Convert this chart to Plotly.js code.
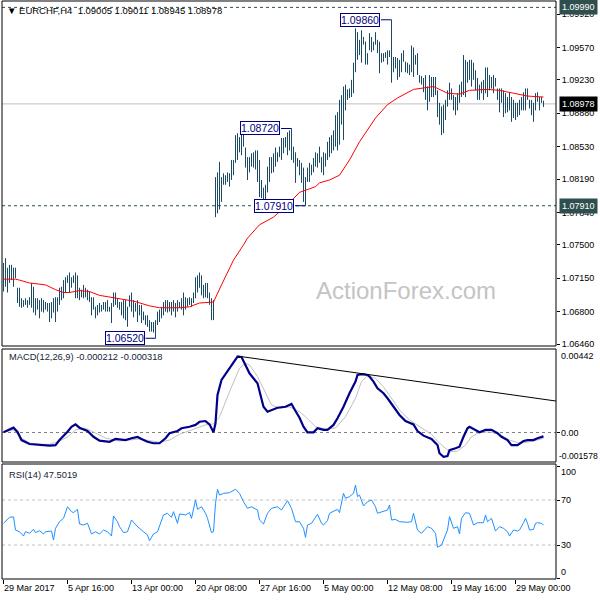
<!DOCTYPE html>
<html>
<head>
<meta charset="utf-8">
<script src="https://cdn.plot.ly/plotly-3.0.1.min.js"></script>
<style>html,body{margin:0;padding:0;background:#fff;}#chart{width:600px;height:600px;}</style>
</head>
<body>
<div id="chart"></div>
<script>
// ---- tick labels ----
const xTickVals = [0, 32, 64, 96, 128, 160, 192, 224, 256];
const xTickText = ["29 Mar 2017", "5 Apr 16:00", "13 Apr 00:00", "20 Apr 08:00", "27 Apr 16:00", "5 May 00:00", "12 May 08:00", "19 May 16:00", "29 May 00:00"];
const priceTicks = [1.06460, 1.06800, 1.07150, 1.07500, 1.07840, 1.08190, 1.08530, 1.08880, 1.09230, 1.09570, 1.09920];

// ---- EURCHF H4 bars ----
const barOpen = [
1.0712,1.0722,1.0713,1.0720,1.0716,1.0722,1.0718,1.0703,1.0692,1.0690,
1.0688,1.0689,1.0690,1.0687,1.0693,1.0703,1.0686,1.0688,1.0685,1.0689,
1.0684,1.0687,1.0684,1.0686,1.0676,1.0686,1.0682,1.0690,1.0692,1.0701,
1.0697,1.0710,1.0713,1.0714,1.0708,1.0713,1.0712,1.0698,1.0700,1.0697,
1.0699,1.0697,1.0701,1.0696,1.0694,1.0684,1.0684,1.0679,1.0683,1.0682,
1.0685,1.0684,1.0686,1.0684,1.0682,1.0686,1.0696,1.0690,1.0688,1.0686,
1.0681,1.0687,1.0676,1.0685,1.0694,1.0685,1.0688,1.0683,1.0686,1.0679,
1.0674,1.0673,1.0670,1.0667,1.0662,1.0664,1.0661,1.0668,1.0677,1.0679,
1.0683,1.0687,1.0686,1.0688,1.0685,1.0687,1.0684,1.0686,1.0688,1.0686,
1.0690,1.0689,1.0692,1.0690,1.0692,1.0691,1.0697,1.0712,1.0711,1.0709,
1.0702,1.0703,1.0700,1.0697,1.0690,1.0676,1.0810,1.0800,1.0790,1.0808,
1.0815,1.0820,1.0818,1.0822,1.0821,1.0835,1.0836,1.0858,1.0850,1.0860,
1.0856,1.0850,1.0838,1.0835,1.0838,1.0840,1.0842,1.0836,1.0820,1.0805,
1.0806,1.0803,1.0809,1.0826,1.0835,1.0833,1.0840,1.0845,1.0844,1.0850,
1.0857,1.0855,1.0858,1.0862,1.0866,1.0848,1.0845,1.0838,1.0836,1.0829,
1.0820,1.0810,1.0816,1.0826,1.0830,1.0828,1.0838,1.0843,1.0840,1.0842,
1.0835,1.0842,1.0844,1.0854,1.0858,1.0860,1.0866,1.0880,1.0884,1.0896,
1.0890,1.0905,1.0910,1.0908,1.0910,1.0918,1.0936,1.0962,1.0958,1.0955,
1.0962,1.0963,1.0945,1.0955,1.0966,1.0960,1.0960,1.0964,1.0955,1.0945,
1.0945,1.0948,1.0950,1.0948,1.0951,1.0935,1.0940,1.0938,1.0930,1.0938,
1.0946,1.0942,1.0935,1.0934,1.0936,1.0950,1.0945,1.0942,1.0928,1.0924,
1.0922,1.0915,1.0916,1.0906,1.0920,1.0918,1.0912,1.0910,1.0890,1.0880,
1.0875,1.0890,1.0898,1.0908,1.0912,1.0906,1.0895,1.0900,1.0905,1.0912,
1.0915,1.0940,1.0930,1.0935,1.0938,1.0928,1.0930,1.0918,1.0908,1.0912,
1.0915,1.0918,1.0930,1.0922,1.0920,1.0922,1.0918,1.0910,1.0906,1.0895,
1.0905,1.0890,1.0900,1.0895,1.0900,1.0885,1.0890,1.0888,1.0895,1.0898,
1.0902,1.0905,1.0908,1.0902,1.0897,1.0890,1.0895,1.0905,1.0903,1.0900,
1.09005];
const barHigh = [
1.0731,1.0736,1.0726,1.0729,1.0729,1.0726,1.0726,1.0705,1.0705,1.0694,
1.0692,1.0694,1.0692,1.0695,1.0710,1.0706,1.0694,1.0694,1.0692,1.0694,
1.0692,1.0690,1.0689,1.0689,1.0690,1.0694,1.0695,1.0695,1.0705,1.0706,
1.0713,1.0716,1.0718,1.0721,1.0716,1.0718,1.0721,1.0718,1.0705,1.0703,
1.0708,1.0705,1.0703,1.0701,1.0695,1.0695,1.0685,1.0687,1.0689,1.0687,
1.0690,1.0690,1.0692,1.0685,1.0689,1.0700,1.0700,1.0694,1.0690,1.0690,
1.0692,1.0692,1.0685,1.0697,1.0700,1.0692,1.0689,1.0692,1.0687,1.0687,
1.0680,1.0676,1.0676,1.0671,1.0669,1.0669,1.0671,1.0680,1.0682,1.0685,
1.0690,1.0692,1.0692,1.0690,1.0690,1.0692,1.0689,1.0692,1.0690,1.0694,
1.0700,1.0695,1.0694,1.0695,1.0694,1.0700,1.0716,1.0718,1.0721,1.0718,
1.0708,1.0710,1.0710,1.0700,1.0694,1.0692,1.0821,1.0826,1.0837,1.0821,
1.0825,1.0823,1.0826,1.0825,1.0839,1.0839,1.0865,1.0867,1.0863,1.0870,
1.0872,1.0852,1.0842,1.0842,1.0846,1.0847,1.0849,1.0849,1.0839,1.0818,
1.0810,1.0813,1.0832,1.0842,1.0842,1.0846,1.0852,1.0847,1.0853,1.0862,
1.0862,1.0863,1.0868,1.0870,1.0872,1.0853,1.0847,1.0841,1.0839,1.0836,
1.0831,1.0821,1.0831,1.0836,1.0834,1.0841,1.0847,1.0846,1.0853,1.0842,
1.0847,1.0846,1.0858,1.0863,1.0865,1.0870,1.0886,1.0889,1.0902,1.0907,
1.0916,1.0918,1.0913,1.0914,1.0923,1.0941,1.0977,1.0973,1.0965,1.0975,
1.0968,1.0963,1.0951,1.0972,1.0968,1.0963,1.0973,1.0965,1.0963,1.0951,
1.0951,1.0952,1.0954,1.0954,1.0986,1.0947,1.0947,1.0946,1.0944,1.0951,
1.0954,1.0942,1.0941,1.0939,1.0959,1.0957,1.0949,1.0951,1.0928,1.0927,
1.0925,1.0928,1.0916,1.0928,1.0926,1.0926,1.0926,1.0912,1.0899,1.0895,
1.0897,1.0902,1.0912,1.0920,1.0914,1.0907,1.0905,1.0909,1.0918,1.0921,
1.0949,1.0944,1.0942,1.0944,1.0944,1.0941,1.0933,1.0925,1.0918,1.0921,
1.0923,1.0936,1.0936,1.0928,1.0926,1.0928,1.0925,1.0914,1.0914,1.0914,
1.0912,1.0909,1.0905,1.0910,1.0905,1.0902,1.0899,1.0899,1.0902,1.0905,
1.0910,1.0914,1.0914,1.0902,1.0902,1.0899,1.0909,1.0910,1.0905,1.0905,
1.09011];
const barLow = [
1.0701,1.0706,1.0700,1.0710,1.0713,1.0706,1.0715,1.0689,1.0685,1.0684,
1.0685,1.0687,1.0684,1.0687,1.0684,1.0679,1.0676,1.0682,1.0673,1.0680,
1.0679,1.0682,1.0680,1.0669,1.0673,1.0679,1.0669,1.0680,1.0687,1.0692,
1.0694,1.0700,1.0710,1.0700,1.0705,1.0710,1.0694,1.0694,1.0692,1.0695,
1.0694,1.0695,1.0692,1.0690,1.0676,1.0682,1.0673,1.0676,1.0679,1.0680,
1.0682,1.0680,1.0680,1.0680,1.0668,1.0685,1.0687,1.0684,1.0682,1.0676,
1.0673,1.0671,1.0664,1.0685,1.0680,1.0674,1.0680,1.0669,1.0676,1.0668,
1.0671,1.0666,1.0664,1.0659,1.0659,1.0658,1.0652,1.0666,1.0669,1.0673,
1.0676,1.0680,1.0679,1.0680,1.0676,1.0680,1.0674,1.0680,1.0684,1.0682,
1.0676,1.0682,1.0685,1.0687,1.0685,1.0689,1.0694,1.0700,1.0705,1.0697,
1.0694,1.0695,1.0694,1.0687,1.0671,1.0671,1.0779,1.0783,1.0787,1.0795,
1.0813,1.0813,1.0816,1.0811,1.0818,1.0823,1.0836,1.0839,1.0847,1.0844,
1.0853,1.0831,1.0818,1.0826,1.0832,1.0831,1.0829,1.0816,1.0800,1.0799,
1.0797,1.0795,1.0805,1.0816,1.0825,1.0826,1.0832,1.0837,1.0842,1.0839,
1.0846,1.0852,1.0844,1.0849,1.0839,1.0836,1.0815,1.0832,1.0823,1.0815,
1.0795,1.0791,1.0816,1.0816,1.0823,1.0826,1.0832,1.0831,1.0836,1.0826,
1.0823,1.0832,1.0839,1.0842,1.0846,1.0849,1.0853,1.0849,1.0855,1.0876,
1.0860,1.0891,1.0902,1.0904,1.0905,1.0909,1.0931,1.0944,1.0949,1.0941,
1.0960,1.0939,1.0939,1.0954,1.0952,1.0954,1.0960,1.0951,1.0930,1.0941,
1.0942,1.0946,1.0939,1.0947,1.0920,1.0931,1.0935,1.0923,1.0926,1.0931,
1.0942,1.0931,1.0930,1.0928,1.0931,1.0926,1.0939,1.0928,1.0920,1.0918,
1.0910,1.0902,1.0891,1.0900,1.0905,1.0905,1.0907,1.0884,1.0876,1.0865,
1.0867,1.0881,1.0895,1.0902,1.0902,1.0891,1.0886,1.0891,1.0899,1.0905,
1.0907,1.0905,1.0920,1.0923,1.0916,1.0923,1.0912,1.0902,1.0902,1.0909,
1.0902,1.0909,1.0905,1.0912,1.0914,1.0909,1.0916,1.0902,1.0889,1.0899,
1.0884,1.0888,1.0889,1.0891,1.0879,1.0883,1.0881,1.0884,1.0886,1.0891,
1.0891,1.0891,1.0902,1.0893,1.0886,1.0879,1.0891,1.0900,1.0891,1.0899,
1.08945];
const barClose = [
1.0722,1.0713,1.0720,1.0716,1.0722,1.0718,1.0717,1.0692,1.0690,1.0688,
1.0689,1.0690,1.0687,1.0693,1.0703,1.0686,1.0688,1.0685,1.0689,1.0684,
1.0687,1.0684,1.0686,1.0676,1.0686,1.0682,1.0690,1.0692,1.0701,1.0697,
1.0710,1.0713,1.0714,1.0708,1.0713,1.0712,1.0698,1.0700,1.0697,1.0699,
1.0697,1.0701,1.0696,1.0694,1.0684,1.0686,1.0679,1.0683,1.0682,1.0685,
1.0684,1.0686,1.0684,1.0682,1.0686,1.0696,1.0690,1.0688,1.0686,1.0681,
1.0687,1.0676,1.0683,1.0694,1.0685,1.0688,1.0683,1.0686,1.0679,1.0674,
1.0673,1.0670,1.0667,1.0662,1.0664,1.0661,1.0668,1.0677,1.0679,1.0683,
1.0687,1.0686,1.0688,1.0685,1.0687,1.0684,1.0686,1.0688,1.0686,1.0690,
1.0689,1.0692,1.0690,1.0692,1.0691,1.0697,1.0712,1.0711,1.0709,1.0702,
1.0703,1.0700,1.0697,1.0690,1.0676,1.0685,1.0800,1.0790,1.0808,1.0815,
1.0820,1.0818,1.0822,1.0821,1.0835,1.0832,1.0858,1.0850,1.0860,1.0852,
1.0856,1.0838,1.0835,1.0838,1.0840,1.0842,1.0836,1.0820,1.0805,1.0806,
1.0803,1.0809,1.0826,1.0835,1.0833,1.0840,1.0845,1.0844,1.0850,1.0857,
1.0855,1.0858,1.0862,1.0866,1.0848,1.0845,1.0838,1.0836,1.0829,1.0820,
1.0810,1.0815,1.0826,1.0830,1.0828,1.0838,1.0843,1.0840,1.0845,1.0835,
1.0842,1.0844,1.0854,1.0858,1.0860,1.0866,1.0880,1.0884,1.0896,1.0890,
1.0905,1.0910,1.0908,1.0910,1.0918,1.0936,1.0962,1.0958,1.0955,1.0962,
1.0963,1.0945,1.0948,1.0966,1.0960,1.0958,1.0964,1.0955,1.0940,1.0945,
1.0948,1.0950,1.0948,1.0951,1.0935,1.0940,1.0938,1.0930,1.0938,1.0946,
1.0945,1.0935,1.0934,1.0936,1.0950,1.0945,1.0942,1.0932,1.0924,1.0922,
1.0915,1.0920,1.0906,1.0920,1.0918,1.0912,1.0910,1.0890,1.0880,1.0875,
1.0890,1.0898,1.0908,1.0912,1.0906,1.0895,1.0900,1.0905,1.0912,1.0915,
1.0940,1.0930,1.0935,1.0938,1.0928,1.0930,1.0918,1.0908,1.0912,1.0915,
1.0918,1.0930,1.0922,1.0920,1.0922,1.0918,1.0920,1.0906,1.0895,1.0905,
1.0890,1.0900,1.0895,1.0900,1.0885,1.0890,1.0888,1.0895,1.0898,1.0902,
1.0905,1.0908,1.0906,1.0897,1.0890,1.0895,1.0905,1.0903,1.0900,1.0900,
1.08978];

// ---- moving average (red) ----
const maIdx = [0,6,8,13,21,26,30,33,38,43,48,57,65,73,78,88,93,98,105,109,115,120,122,128,135,142,148,156,158,163,168,173,178,186,192,197,205,215,222,228,233,242,248,255,262,270];
const maVal = [1.0714,1.0714,1.0713,1.0710,1.0708,1.0703,1.0700,1.0700,1.0702,1.0701,1.0697,1.0694,1.0691,1.0686,1.0684,1.0684,1.0685,1.0689,1.0690,1.0708,1.0734,1.0750,1.0757,1.0771,1.0779,1.0792,1.0805,1.0811,1.0815,1.0818,1.0823,1.0839,1.0858,1.0883,1.0897,1.0904,1.0913,1.0916,1.0909,1.0908,1.0912,1.0913,1.0912,1.0909,1.0906,1.0905];

// ---- MACD(12,26,9) ----
const macdIdx = [0,5,7,9,13,18,23,26,28,32,34,36,38,42,45,48,53,56,58,61,64,67,69,72,75,78,81,83,87,89,93,96,98,101,103,105,106,107,109,112,114,116,117,119,121,123,127,130,132,134,137,141,144,146,148,150,152,155,157,160,162,165,167,170,173,176,177,179,182,183,185,187,190,192,195,198,201,205,207,210,214,217,218,220,222,223,226,228,230,232,233,236,238,241,244,247,249,252,254,257,260,262,265,267,270];
const macdVal = [0.00001,0.00026,0.00003,-0.00041,-0.00062,-0.00068,-0.00071,-0.00068,-0.00041,0.00004,0.00031,0.00044,0.00026,0.00008,-0.00023,-0.00044,-0.00050,-0.00035,-0.00037,-0.00041,-0.00031,-0.00024,-0.00035,-0.00050,-0.00058,-0.00058,-0.00031,-0.00004,0.00008,0.00023,0.00031,0.00041,0.00058,0.00062,0.00044,0.00001,0.00050,0.00203,0.00284,0.00332,0.00361,0.00392,0.00410,0.00408,0.00365,0.00320,0.00266,0.00139,0.00112,0.00122,0.00134,0.00139,0.00154,0.00116,0.00080,0.00031,0.00001,0.00001,0.00023,0.00014,0.00014,0.00041,0.00077,0.00139,0.00212,0.00275,0.00311,0.00315,0.00311,0.00302,0.00275,0.00239,0.00212,0.00185,0.00139,0.00095,0.00062,0.00044,0.00008,-0.00017,-0.00035,-0.00068,-0.00112,-0.00131,-0.00127,-0.00095,-0.00085,-0.00077,-0.00023,0.00023,0.00031,0.00014,0.00001,0.00014,0.00014,-0.00004,-0.00023,-0.00041,-0.00068,-0.00068,-0.00046,-0.00041,-0.00041,-0.00031,-0.00021];
const sigIdx = [0,5,9,13,18,23,28,32,36,41,46,51,58,68,78,83,88,96,101,105,108,113,118,121,123,127,131,134,138,143,148,151,156,161,166,171,176,179,182,186,190,194,198,203,208,214,218,223,227,231,234,238,243,248,253,258,263,270];
const sigVal = [0.00003,0.00014,-0.00030,-0.00057,-0.00064,-0.00064,-0.00046,-0.00024,0.00014,0.00023,-0.00003,-0.00030,-0.00046,-0.00035,-0.00053,-0.00041,-0.00010,0.00023,0.00041,0.00046,0.00085,0.00220,0.00347,0.00374,0.00365,0.00302,0.00212,0.00149,0.00131,0.00138,0.00112,0.00085,0.00031,0.00019,0.00024,0.00085,0.00185,0.00275,0.00307,0.00293,0.00247,0.00185,0.00122,0.00068,0.00031,-0.00010,-0.00058,-0.00104,-0.00100,-0.00068,-0.00023,0.00001,0.00003,-0.00010,-0.00041,-0.00058,-0.00050,-0.00032];
const trendIdx = [117, 276.25];
const trendVal = [0.00413, 0.00170];

// ---- RSI(14) ----
const rsiIdx = [0,3,5,6,8,10,11,13,15,16,18,20,21,24,25,26,28,30,32,34,35,37,38,40,42,44,46,48,50,52,54,55,57,58,60,62,64,67,70,72,73,75,77,78,80,82,84,85,87,88,91,93,94,96,97,99,101,102,104,105,106,107,108,110,113,116,118,120,122,124,127,128,130,132,134,137,139,142,144,146,148,150,151,152,154,157,159,160,162,163,165,167,168,170,171,173,175,176,177,178,180,182,184,186,187,189,192,193,194,196,198,202,204,205,207,209,210,212,214,216,217,219,222,223,225,227,228,229,231,233,235,237,240,241,242,244,246,248,250,252,253,255,257,258,260,261,262,263,265,266,267,269,270];
const rsiVal = [49.3,54.6,55,43.3,41.8,38,41.8,40.4,44,41,42.7,39.8,41.8,42.4,34.4,44.8,50.7,53.7,64,59.6,58.8,61.7,48.7,47.8,49.3,39.8,41.8,39.8,43.3,41.8,38,55.8,50.7,46.3,41,41.8,52.2,46.3,41.8,38.9,33.8,39.8,41.8,46.3,56.7,58.2,54.6,59.6,49.3,57.6,56.7,58.8,53.7,70,61.7,64,58.2,53.7,41,41.8,67,79.5,74.4,75.9,76.5,79.5,75.9,68.5,62.6,64,61.1,52.2,48.7,58.2,62.6,64,61.1,69.4,62.6,50.7,50.7,44.8,36.8,47.8,49.3,57.3,49.3,47.8,51.7,58.2,59.6,61.7,58.8,76,71.5,73,76,83.3,73,74.4,64.7,68.5,70,64,58.2,59.6,61.1,65.6,52.2,52.8,50.7,50.2,50.7,58.2,43.3,40.4,42.7,46.3,44.8,40.4,28,30,43.3,55.2,44.8,46.3,39.8,53.7,58.7,58.2,47.8,49.8,49.8,56.7,50.7,53.7,42.4,46.3,44.8,41.8,38,43.3,42.4,43.3,49.8,53.7,49.3,43.3,43.9,49.3,49.8,49.3,47.5];
const rsiLevels = [30, 70];

// ---- marked levels ----
const resistLevel = 1.09990;
const supportLevel = 1.07910;
const lastPrice = 1.08978;
const swingVals = [1.09860, 1.08720, 1.07910, 1.06520];
const swingBars = [194, 144, 151, 76];
const swingLabelBars = [178.25, 128.25, 135.25, 60.5];

// ---------------------------------------------------------------
const FONT = 'Liberation Sans, Arial, sans-serif';
const barIdx = barHigh.map((_, i) => i);
const barColor = '#1b4a64';

const traces = [
  {type: 'ohlc', x: barIdx, open: barOpen, high: barHigh, low: barLow, close: barClose,
   xaxis: 'x', yaxis: 'y', tickwidth: 0.1, hoverinfo: 'skip',
   increasing: {line: {color: barColor, width: 1}}, decreasing: {line: {color: barColor, width: 1}}},
  {type: 'scatter', mode: 'lines', x: maIdx, y: maVal, xaxis: 'x', yaxis: 'y',
   line: {color: '#ff0000', width: 1}, hoverinfo: 'skip'},
  {type: 'scatter', mode: 'lines', x: sigIdx, y: sigVal, xaxis: 'x', yaxis: 'y2',
   line: {color: '#c0c0c0', width: 1}, hoverinfo: 'skip'},
  {type: 'scatter', mode: 'lines', x: macdIdx, y: macdVal, xaxis: 'x', yaxis: 'y2',
   line: {color: '#00008b', width: 2.2}, hoverinfo: 'skip'},
  {type: 'scatter', mode: 'lines', x: rsiIdx, y: rsiVal, xaxis: 'x', yaxis: 'y3',
   line: {color: '#1e90ff', width: 1}, hoverinfo: 'skip'}
];

const shapes = [];
['y', 'y2', 'y3'].forEach(a => shapes.push({type: 'rect', xref: 'paper', yref: a + ' domain', x0: 0, x1: 1, y0: 0, y1: 1, line: {color: '#000', width: 1}, layer: 'above'}));
shapes.push({type: 'line', xref: 'paper', yref: 'y', x0: 0, x1: 1, y0: lastPrice, y1: lastPrice, line: {color: '#c0c0c0', width: 1}, layer: 'below'});
[resistLevel, supportLevel].forEach(v => shapes.push({type: 'line', xref: 'paper', yref: 'y', x0: 0, x1: 1, y0: v, y1: v, line: {color: '#2f4f4f', width: 1, dash: '3px,3px'}, layer: 'below'}));
shapes.push({type: 'line', xref: 'paper', yref: 'y2', x0: 0, x1: 1, y0: 0, y1: 0, line: {color: '#808080', width: 1, dash: '3px,3px'}, layer: 'below'});
rsiLevels.forEach(v => shapes.push({type: 'line', xref: 'paper', yref: 'y3', x0: 0, x1: 1, y0: v, y1: v, line: {color: '#c0c0c0', width: 1, dash: '3px,3px'}, layer: 'below'}));
shapes.push({type: 'line', xref: 'x', yref: 'y2', x0: trendIdx[0], x1: trendIdx[1], y0: trendVal[0], y1: trendVal[1], line: {color: '#000', width: 1}});
swingVals.forEach((v, k) => shapes.push({type: 'line', xref: 'x', yref: 'y', x0: swingLabelBars[k] + 10.5, x1: swingBars[k], y0: v, y1: v, line: {color: '#000080', width: 1}}));

const pxX = 1 + 3 / 554;
const annotations = [
  {xref: 'paper', yref: 'paper', x: 3 / 554, y: 0.9827, xanchor: 'left', yanchor: 'middle', showarrow: false,
   text: '▼ EURCHF,H4  1.09005 1.09011 1.08945 1.08978', font: {family: FONT, size: 9.5, color: '#000'}},
  {xref: 'paper', yref: 'paper', x: 5 / 554, y: 0.3841, xanchor: 'left', yanchor: 'middle', showarrow: false,
   text: 'MACD(12,26,9) -0.000212 -0.000318', font: {family: FONT, size: 9.3, color: '#14233a'}},
  {xref: 'paper', yref: 'paper', x: 5 / 554, y: 0.1799, xanchor: 'left', yanchor: 'middle', showarrow: false,
   text: 'RSI(14) 47.5019', font: {family: FONT, size: 9.3, color: '#14233a'}},
  {xref: 'paper', yref: 'paper', x: 0.729, y: 0.5, xanchor: 'center', yanchor: 'middle', showarrow: false,
   text: 'ActionForex.com', font: {family: FONT, size: 24, color: '#c4c4c4'}}
];
swingVals.forEach((v, k) => annotations.push({xref: 'x', yref: 'y', x: swingLabelBars[k], y: v, xanchor: 'center', yanchor: 'middle', showarrow: false,
  text: v.toFixed(5), font: {family: FONT, size: 10.5, color: '#000080'}, bgcolor: '#ffffff', bordercolor: '#000080', borderwidth: 1, borderpad: 0}));
[[resistLevel, '#2f4f4f'], [lastPrice, '#000000'], [supportLevel, '#2f4f4f']].forEach(([v, c]) => annotations.push({
  xref: 'paper', yref: 'y', x: pxX, y: v, xanchor: 'left', yanchor: 'middle', showarrow: false, align: 'left',
  text: v.toFixed(5), font: {family: FONT, size: 9, color: '#ffffff'}, bgcolor: c, borderpad: 2}));
[[0.00442, -5, '0.00442', pxX], [0, 0, '0.00', pxX], [-0.001578, 6, '-0.001578', 1 + 1 / 554]].forEach(([v, s, t, xp]) => annotations.push({
  xref: 'paper', yref: 'y2', x: xp, y: v, yshift: s, xanchor: 'left', yanchor: 'middle', showarrow: false,
  text: t, font: {family: FONT, size: t.length > 7 ? 8.6 : 9, color: '#000'}}));
[[100, -6], [70, 0], [30, 0], [0, 7]].forEach(([v, s]) => annotations.push({
  xref: 'paper', yref: 'y3', x: pxX, y: v, yshift: s, xanchor: 'left', yanchor: 'middle', showarrow: false,
  text: String(v), font: {family: FONT, size: 9, color: '#000'}}));

const yBase = {anchor: 'x', side: 'right', showgrid: false, zeroline: false, showline: false, ticks: 'outside', ticklen: 3, tickcolor: '#000', fixedrange: true};
const layout = {
  width: 600, height: 600,
  margin: {l: 2, r: 44, t: 1, b: 21},
  paper_bgcolor: '#ffffff', plot_bgcolor: '#ffffff',
  showlegend: false,
  font: {family: FONT, size: 9, color: '#000'},
  xaxis: {domain: [0, 1], anchor: 'y3', range: [-0.75, 276.25], showgrid: false, zeroline: false, showline: false,
    ticks: 'outside', ticklen: 4, tickcolor: '#000', tickvals: xTickVals, ticktext: xTickText,
    ticklabelposition: 'outside right', rangeslider: {visible: false}, fixedrange: true, tickfont: {family: FONT, size: 9}},
  yaxis: Object.assign({}, yBase, {domain: [0.40311, 1], range: [1.06439, 1.10057], tickvals: priceTicks,
    ticktext: priceTicks.map(v => v.toFixed(5)), tickfont: {family: FONT, size: 9}}),
  yaxis2: Object.assign({}, yBase, {domain: [0.20242, 0.39792], range: [-0.001594, 0.004512], tickvals: [0], showticklabels: false}),
  yaxis3: Object.assign({}, yBase, {domain: [0, 0.19896], range: [-0.22, 102], tickvals: [0, 30, 70, 100], showticklabels: false}),
  shapes: shapes,
  annotations: annotations
};

Plotly.newPlot('chart', traces, layout, {staticPlot: true, displayModeBar: false});
</script>
</body>
</html>
